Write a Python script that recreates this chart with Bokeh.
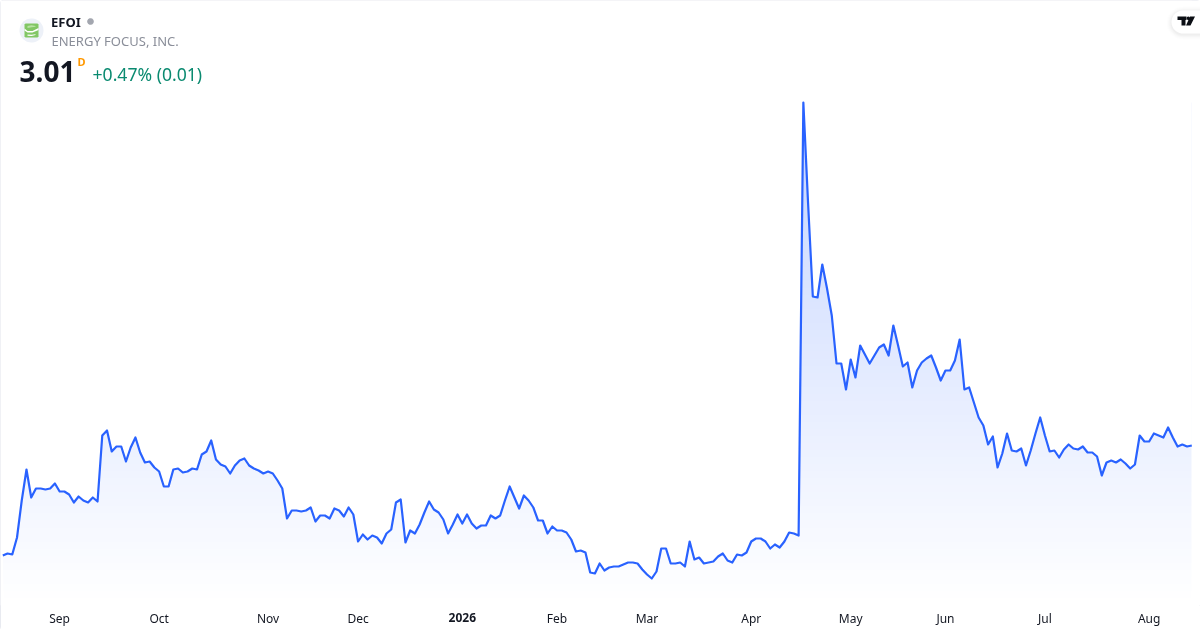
from bokeh.plotting import figure
from bokeh.embed import file_html
from bokeh.resources import INLINE
from bokeh.models import Range1d, Label, FixedTicker, PolyAnnotation, LinearAxis
import numpy as np

prices = [
1.91,1.93,1.92,2.09,2.46,2.77,2.49,2.58,2.58,2.57,2.58,2.63,2.55,2.55,2.52,2.44,2.50,2.46,2.44,2.49,2.45,
3.11,3.16,2.95,3.00,3.00,2.85,2.99,3.09,2.94,2.84,2.85,2.79,2.75,2.60,2.60,2.77,2.78,2.74,2.75,2.78,2.77,
2.92,2.95,3.06,2.87,2.82,2.80,2.73,2.81,2.86,2.88,2.81,2.78,2.76,2.73,2.75,2.73,2.66,2.58,2.28,2.36,2.36,
2.35,2.36,2.39,2.25,2.31,2.31,2.28,2.38,2.36,2.30,2.39,2.32,2.05,2.12,2.07,2.11,2.09,2.03,2.13,2.17,2.44,
2.47,2.04,2.16,2.13,2.22,2.34,2.45,2.37,2.34,2.27,2.13,2.22,2.32,2.23,2.32,2.23,2.18,2.21,2.21,2.31,2.28,
2.31,2.46,2.60,2.49,2.38,2.51,2.46,2.39,2.26,2.26,2.13,2.20,2.16,2.16,2.14,2.07,1.95,1.96,1.94,1.74,1.73,1.83,
1.76,1.79,1.80,1.80,1.82,1.84,1.84,1.83,1.77,1.72,1.68,1.75,1.98,1.98,1.83,1.83,1.84,1.80,2.05,1.87,1.89,
1.83,1.84,1.85,1.90,1.93,1.86,1.84,1.92,1.91,1.94,2.05,2.08,2.08,2.05,1.98,2.02,1.99,2.05,2.14,2.13,2.11,
6.44,5.43,4.50,4.49,4.82,4.58,4.31,3.83,3.83,3.57,3.87,3.69,4.01,3.92,3.83,3.91,3.99,4.02,3.91,4.21,4.01,
3.80,3.84,3.59,3.76,3.84,3.88,3.91,3.79,
3.66,3.76,3.76,3.86,4.07,3.57,3.59,3.44,3.29,3.21,3.02,3.10,2.79,2.93,3.13,2.96,2.95,2.98,2.81,2.96,3.13,
3.29,3.11,2.95,2.96,2.89,2.97,3.02,2.98,2.97,3.00,2.94,2.94,2.90,2.71,2.84,2.86,2.84,2.87,2.83,2.78,2.82,
3.11,3.05,3.05,3.13,3.11,3.09,3.19,3.09,3.00,3.02,3.00,3.01,
]
tick_labels = ["Sep", "Oct", "Nov", "Dec", "2026", "Feb", "Mar", "Apr", "May", "Jun", "Jul", "Aug"]
tick_index = [12, 33, 56, 75, 97, 117, 136, 158, 179, 199, 220, 242]
year_label = "2026"
ticker = "EFOI"
company = "ENERGY FOCUS, INC."
last_price = "3.01"
change = "+0.47% (0.01)"

W, H, FH = 1200, 630, 605
days = np.arange(len(prices))
TOP = 7.46
BOTTOM = TOP - FH / 100

p = figure(width=W, height=H, output_backend="svg", toolbar_location=None,
           x_range=Range1d(-0.4855, 252.84), y_range=Range1d(BOTTOM, TOP),
           min_border_left=0, min_border_right=0, min_border_top=0, min_border_bottom=H - FH,
           background_fill_color="white", border_fill_color="white")
p.styles = {"position": "fixed", "left": "0", "top": "0",
            "outline": "1px solid #E0E3EB", "outline-offset": "-1px", "border-radius": "3px"}
p.grid.visible = False
p.yaxis.visible = False
p.outline_line_color = None

def style_axis(ax, ticks, overrides, standoff, font_style):
    ax.ticker = FixedTicker(ticks=ticks)
    ax.major_label_overrides = overrides
    ax.axis_line_color = None
    ax.major_tick_line_color = None
    ax.minor_tick_line_color = None
    ax.major_tick_out = 0
    ax.major_tick_in = 0
    ax.major_label_standoff = standoff
    ax.major_label_text_font = "Noto Sans"
    ax.major_label_text_font_size = "12px"
    ax.major_label_text_font_style = font_style
    ax.major_label_text_color = "#131722"

month_ticks = [i for i, t in zip(tick_index, tick_labels) if t != year_label]
year_ticks = [i for i, t in zip(tick_index, tick_labels) if t == year_label]
style_axis(p.xaxis[0], month_ticks,
           {i: t for i, t in zip(tick_index, tick_labels) if t != year_label}, 4, "normal")
year_axis = LinearAxis()
style_axis(year_axis, year_ticks, {year_ticks[0]: year_label}, -17, "bold")
p.add_layout(year_axis, "below")

# area gradient, masked above the line
rows = 500
a = np.linspace(0.0, 0.28, rows)
img = np.zeros((rows, 1), dtype=np.uint32)
v = img.view(np.uint8).reshape((rows, 1, 4))
v[:, :, 0], v[:, :, 1], v[:, :, 2] = 41, 98, 255
v[:, 0, 3] = (a * 255).astype(np.uint8)
G_TOP = TOP - 1.02
p.image_rgba(image=[img], x=0.06, y=BOTTOM, dw=len(prices) - 1.12, dh=G_TOP - BOTTOM)
p.varea(x=days, y1=prices, y2=TOP, fill_color="white")
p.line(days, prices, line_color="#2962FF", line_width=2.2, line_join="round")

def sy(y):
    return FH - y

def text(x, y, t, size, color, style="normal", font="Noto Sans", align="left"):
    p.add_layout(Label(x=x, y=sy(y), x_units="screen", y_units="screen", text=t,
                       text_font=font, text_font_size=size, text_color=color,
                       text_font_style=style, text_baseline="middle", text_align=align))

text(50.5, 21, ticker, "13px", "#131722", "bold")
text(51, 40, company, "13px", "#8a8e99")
text(19, 71, last_price, "28px", "#131722", "bold")
text(77, 61, "D", "11px", "#FF9800", "bold")
text(92, 73.5, change, "17.6px", "#0A8A70")

def poly(xs, ys, color, alpha=1.0):
    p.add_layout(PolyAnnotation(xs=list(xs), ys=[sy(y) for y in ys], xs_units="screen", ys_units="screen",
                                fill_color=color, fill_alpha=alpha, line_color=None))

th = np.linspace(0, 2 * np.pi, 48)
poly(90 + 3.3 * np.cos(th), 21 + 3.3 * np.sin(th), "#a3a6af")
poly(31 + 12 * np.cos(th), 30 + 12 * np.sin(th), "#edf1f8")
poly([25, 37, 38, 38, 37, 25, 24, 24], [23, 23, 24, 36, 37, 37, 36, 24], "#82c765")
poly([24, 27, 32, 38, 38, 32, 27, 24], [28, 30.5, 30.5, 27.5, 29.5, 32, 32, 30], "white")
poly([27, 31, 35, 35, 31, 27], [25.5, 24.8, 25.5, 26.3, 26.8, 27.5], "#b9e2a5")
poly([27, 31, 35, 35, 31, 27], [34, 34.3, 33.7, 34.6, 35.4, 35.2], "white")

# TradingView badge with soft shadow
half = np.linspace(np.pi / 2, 3 * np.pi / 2, 24)
for grow, alpha in [(5, 0.006), (4, 0.008), (3, 0.012), (2, 0.015), (1, 0.02)]:
    r = 11.5 + grow
    poly(list(1182.5 + r * np.cos(half)) + [1201, 1201],
         list(22.5 + r * np.sin(half)) + [22.5 - r, 22.5 + r], "black", alpha)
poly(list(1182.5 + 11.5 * np.cos(half)) + [1201, 1201],
     list(21.5 + 11.5 * np.sin(half)) + [10, 33], "white")
poly([1177, 1186, 1186, 1185, 1185, 1181, 1181, 1177], [16, 16, 19.5, 19.5, 25, 25, 19.5, 19.5], "#0b0e14")
poly(1187.8 + 1.7 * np.cos(th), 17.8 + 1.7 * np.sin(th), "#0b0e14")
poly([1189.5, 1194.5, 1190, 1185.5], [16.0, 16.0, 25, 25], "#0b0e14")

open("out.html", "w").write(file_html(p, INLINE))
